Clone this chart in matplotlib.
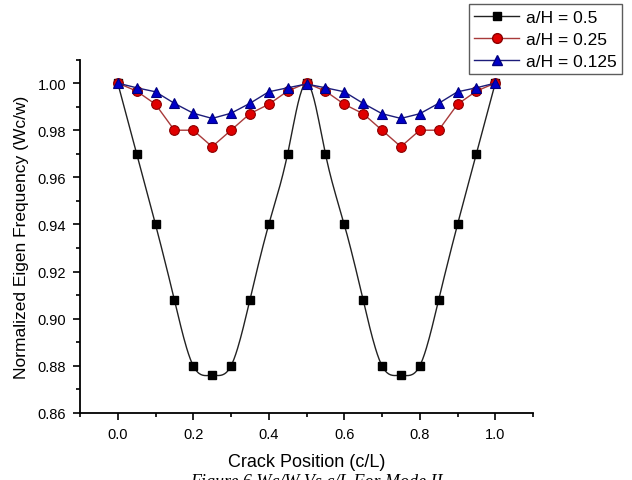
import numpy as np
import matplotlib
matplotlib.use("Agg")
import matplotlib.pyplot as plt
from matplotlib.ticker import MultipleLocator

plt.rcParams["font.family"] = ["Liberation Sans", "DejaVu Sans"]

crack_pos = [0.0, 0.05, 0.1, 0.15, 0.2, 0.25, 0.3, 0.35, 0.4, 0.45, 0.5,
             0.55, 0.6, 0.65, 0.7, 0.75, 0.8, 0.85, 0.9, 0.95, 1.0]
ah_05 = [1.0, 0.97, 0.94, 0.908, 0.88, 0.876, 0.88, 0.908, 0.94, 0.97, 1.0,
         0.97, 0.94, 0.908, 0.88, 0.876, 0.88, 0.908, 0.94, 0.97, 1.0]
ah_025 = [1.0, 0.9966, 0.991, 0.98, 0.98, 0.973, 0.98, 0.987, 0.991, 0.9966, 1.0,
          0.9966, 0.991, 0.987, 0.98, 0.973, 0.98, 0.98, 0.991, 0.9966, 1.0]
ah_0125 = [1.0, 0.998, 0.9963, 0.9914, 0.9872, 0.985, 0.9872, 0.9914, 0.9963, 0.998, 0.9996,
           0.998, 0.9963, 0.9914, 0.987, 0.985, 0.987, 0.9914, 0.9963, 0.998, 1.0]


def spline_curve(x, y, n=20):
    # natural cubic spline, only used to draw the smooth connecting line
    x = np.asarray(x, float)
    y = np.asarray(y, float)
    h = np.diff(x)
    m = len(x)
    A = np.zeros((m, m))
    b = np.zeros(m)
    A[0, 0] = A[-1, -1] = 1
    for i in range(1, m - 1):
        A[i, i - 1] = h[i - 1]
        A[i, i] = 2 * (h[i - 1] + h[i])
        A[i, i + 1] = h[i]
        b[i] = 6 * ((y[i + 1] - y[i]) / h[i] - (y[i] - y[i - 1]) / h[i - 1])
    M = np.linalg.solve(A, b)
    xs, ys = [], []
    for i in range(m - 1):
        t = np.linspace(x[i], x[i + 1], n, endpoint=False)
        a = (x[i + 1] - t) / h[i]
        c = (t - x[i]) / h[i]
        s = (a * y[i] + c * y[i + 1]
             + ((a ** 3 - a) * M[i] + (c ** 3 - c) * M[i + 1]) * h[i] ** 2 / 6)
        xs.extend(t)
        ys.extend(s)
    xs.append(x[-1])
    ys.append(y[-1])
    return xs, ys


fig = plt.figure(figsize=(6.32, 4.81), dpi=100)
ax = fig.add_axes([0.1266, 0.1393, 0.7168, 0.7349])

sx, sy = spline_curve(crack_pos, ah_05)
ax.plot(sx, sy, color="#222222", lw=1.0, zorder=2)
ax.plot(crack_pos, ah_05, ls="none", marker="s", ms=6, mfc="black", mec="black", zorder=3)
ax.plot(crack_pos, ah_025, color="#a83a3a", lw=1.0, marker="o", ms=7,
        mfc="#e00000", mec="#8b0000", mew=0.8, zorder=4)
ax.plot(crack_pos, ah_0125, color="#1c1c7a", lw=1.0, marker="^", ms=7.5,
        mfc="#0000c8", mec="#000080", mew=0.8, zorder=5)

# legend proxies
h1, = ax.plot([], [], color="#222222", lw=1.0, marker="s", ms=6, mfc="black", mec="black")
h2, = ax.plot([], [], color="#a83a3a", lw=1.0, marker="o", ms=7, mfc="#e00000", mec="#8b0000")
h3, = ax.plot([], [], color="#1c1c7a", lw=1.0, marker="^", ms=7.5, mfc="#0000c8", mec="#000080")

ax.set_xlim(-0.1, 1.1)
ax.set_ylim(0.86, 1.01)
ax.xaxis.set_minor_locator(MultipleLocator(0.1))
ax.yaxis.set_minor_locator(MultipleLocator(0.01))
ax.set_xticks([0.0, 0.2, 0.4, 0.6, 0.8, 1.0])
ax.set_xticklabels(["0.0", "0.2", "0.4", "0.6", "0.8", "1.0"])
ax.set_yticks([0.86, 0.88, 0.90, 0.92, 0.94, 0.96, 0.98, 1.00])
ax.set_yticklabels(["0.86", "0.88", "0.90", "0.92", "0.94", "0.96", "0.98", "1.00"])
ax.tick_params(which="major", direction="out", length=5, width=1.2, labelsize=10.5, pad=5)
ax.tick_params(which="minor", direction="out", length=3, width=1.2)

for side in ["top", "right"]:
    ax.spines[side].set_visible(False)
for side in ["left", "bottom"]:
    ax.spines[side].set_linewidth(1.3)

ax.set_xlabel("Crack Position (c/L)", fontsize=13, labelpad=9)
ax.set_ylabel("Normalized Eigen Frequency (Wc/w)", fontsize=12.5, labelpad=6)

leg = fig.legend([h1, h2, h3], ["a/H = 0.5", "a/H = 0.25", "a/H = 0.125"],
                 loc="lower left", bbox_to_anchor=(469 / 632, 1 - 75 / 481),
                 fontsize=12.5, frameon=True, fancybox=False, borderpad=0.3,
                 handlelength=2.6, handletextpad=0.4, labelspacing=0.4,
                 borderaxespad=0)
leg.get_frame().set_edgecolor("#333333")
leg.get_frame().set_linewidth(1.0)

fig.text(0.5, 1 - 474 / 481, "Figure 6 Wc/W Vs c/L For Mode II", ha="center", va="top",
         fontsize=13, style="italic", family="Liberation Serif")

fig.savefig("out.png", dpi=100)
